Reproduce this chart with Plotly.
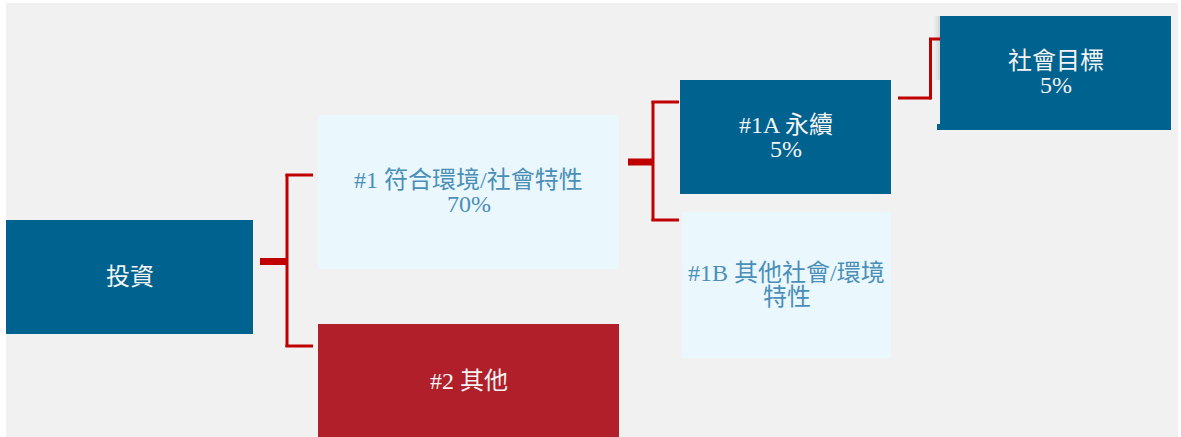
import plotly.graph_objects as go

# ---- data ----
node_names = ["投資", "#1 符合環境/社會特性", "#2 其他", "#1A 永續", "#1B 其他社會/環境", "社會目標"]
node_extra = ["", "70%", "", "5%", "特性", "5%"]
node_kind = ["dark", "light", "red", "dark", "light", "dark"]

# ---- layout geometry (pixels) ----
W, H = 1181, 437
boxes = [  # x0, x1, y0, y1
    (6, 253, 220, 334),
    (318, 619, 115, 269),
    (318, 619, 324, 437),
    (680, 891, 80, 194),
    (682, 891, 212, 358),
    (940, 1171, 16, 130),
]
fill = {"dark": "#00628f", "light": "#eaf7fc", "red": "#b01f2a"}
tcol = {"dark": "#f4f4f4", "light": "#4a8fb8", "red": "#f4f4f4"}
RED = "#c00000"
FONT = "Liberation Serif, Noto Sans CJK TC, serif"

fig = go.Figure()
shapes = []
annotations = []

# background panel
shapes.append(dict(type="rect", xref="x", yref="y", x0=6, x1=1178, y0=3, y1=437,
                   fillcolor="#f1f1f1", line=dict(width=0), layer="below"))

# soft shadow left of top-right box
for i, a in enumerate([0.08, 0.16, 0.26]):
    shapes.append(dict(type="rect", xref="x", yref="y", x0=934 + 2 * i, x1=936 + 2 * i, y0=16, y1=80,
                       fillcolor=f"rgba(150,150,150,{a})", line=dict(width=0)))
shapes.append(dict(type="rect", xref="x", yref="y", x0=937, x1=940, y0=124, y1=130,
                   fillcolor=fill["dark"], line=dict(width=0)))

for (x0, x1, y0, y1), name, extra, kind in zip(boxes, node_names, node_extra, node_kind):
    shapes.append(dict(type="rect", xref="x", yref="y", x0=x0, x1=x1, y0=y0, y1=y1,
                       fillcolor=fill[kind], line=dict(width=0)))
    cx = (x0 + x1) / 2
    cy = (y0 + y1) / 2
    lines = [name] + ([extra] if extra else [])
    n = len(lines)
    step = 24.5
    for i, t in enumerate(lines):
        y = cy + (i - (n - 1) / 2) * step
        annotations.append(dict(x=cx, y=y, xref="x", yref="y", text=t, showarrow=False,
                                xanchor="center", yanchor="middle",
                                font=dict(family=FONT, size=24, color=tcol[kind])))

def seg(x0, y0, x1, y1, w):
    shapes.append(dict(type="line", xref="x", yref="y", x0=x0, y0=y0, x1=x1, y1=y1,
                       line=dict(color=RED, width=w)))

# bracket 1
seg(260, 261.5, 287, 261.5, 7)
seg(287, 174, 287, 347, 3)
seg(285.5, 175, 313, 175, 3)
seg(285.5, 346, 313, 346, 3)
# bracket 2
seg(628, 162, 653, 162, 7)
seg(653, 101, 653, 221, 3)
seg(651.5, 102, 679, 102, 3)
seg(651.5, 220, 679, 220, 3)
# connector 3
seg(898, 98, 931, 98, 3)
seg(930.5, 38, 930.5, 99.5, 3)
seg(929, 39, 940, 39, 3)

fig.update_layout(
    width=W, height=H,
    margin=dict(l=0, r=0, t=0, b=0),
    paper_bgcolor="white", plot_bgcolor="white",
    xaxis=dict(range=[0, W], visible=False, fixedrange=True),
    yaxis=dict(range=[H, 0], visible=False, fixedrange=True),
    shapes=shapes, annotations=annotations, showlegend=False,
)
fig.write_html("out.html", config={"displayModeBar": False},
               post_script="document.body.style.margin='0';document.body.style.overflow='hidden';")
